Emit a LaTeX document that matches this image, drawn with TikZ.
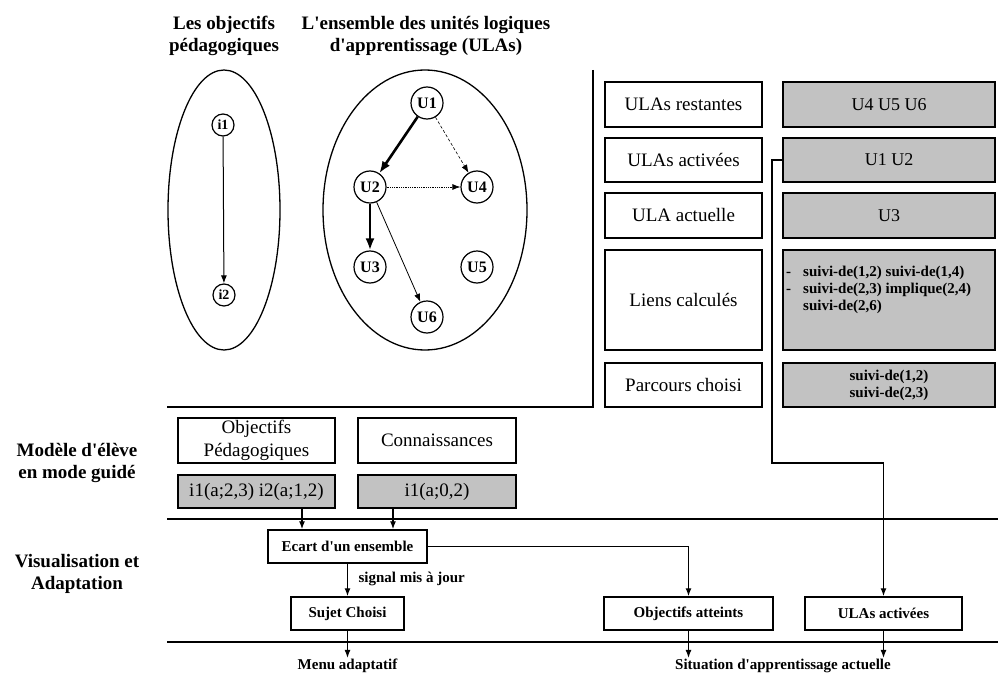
\documentclass[tikz,border=0pt]{standalone}
\usepackage{fontspec}
\setmainfont{Liberation Serif}[Ligatures=TeXOff]
\usetikzlibrary{arrows.meta,calc}
\begin{document}
\begin{tikzpicture}[x=1pt,y=-1pt,
  box/.style={draw, line width=1.5pt, inner sep=0pt, align=center},
  graybox/.style={box, fill=black!24},
  bigreg/.style={font=\fontsize{19}{23}\selectfont},
  midreg/.style={font=\fontsize{18}{21}\selectfont},
  bigbold/.style={font=\fontsize{19}{22}\selectfont\bfseries, align=center},
  smallbold/.style={font=\fontsize{15}{17}\selectfont\bfseries},
  unode/.style={draw, circle, line width=1.2pt, minimum size=32pt, inner sep=0pt, font=\fontsize{16}{16}\selectfont\bfseries},
  inode/.style={draw, circle, line width=1.2pt, minimum size=22pt, inner sep=0pt, font=\fontsize{14}{14}\selectfont\bfseries},
  arr/.style={-{Latex[length=8pt,width=6pt]}},
  thickedge/.style={line width=2.6pt, -{Latex[length=12pt,width=9pt]}},
  thinedge/.style={line width=0.8pt, -{Latex[length=8pt,width=6pt]}},
  sect/.style={line width=1.5pt},
  conn/.style={line width=1.3pt, arr}
]
\useasboundingbox (0,0) rectangle (998,674);

% titles
\node[bigbold] (t1) at (224,36) {Les objectifs\\pédagogiques};
\node[bigbold] (t2) at (426,36) {L'ensemble des unités logiques\\d'apprentissage (ULAs)};

% ellipses
\draw[line width=1.3pt] (224,210) ellipse [x radius=56, y radius=140];
\draw[line width=1.3pt] (425,210) ellipse [x radius=102, y radius=140];

% objective graph
\node[inode] (i1) at (223,125) {i1};
\node[inode] (i2) at (224,295) {i2};
\draw[thinedge, line width=1pt] (i1) -- (i2);

% ULA graph
\node[unode] (u1) at (427,103) {U1};
\node[unode] (u2) at (370,187) {U2};
\node[unode] (u4) at (477,187) {U4};
\node[unode] (u3) at (370,267) {U3};
\node[unode] (u5) at (477,267) {U5};
\node[unode] (u6) at (427,317) {U6};
\draw[thickedge] (u1) -- (u2);
\draw[thinedge, densely dashed, line width=0.6pt] (u1) -- (u4);
\draw[thinedge, densely dotted] (u2) -- (u4);
\draw[thickedge] (u2) -- (u3);
\draw[thinedge] (u2) -- (u6);

% section lines
\coordinate (vt) at (593,70);
\coordinate (l1b) at (593,407);
\coordinate (l1a) at (167,407);
\coordinate (l2a) at (167,519);
\coordinate (l2b) at (998,519);
\coordinate (l3a) at (167,642);
\coordinate (l3b) at (998,642);
\draw[sect] (vt) -- (l1b) -- (l1a);
\draw[sect] (l2a) -- (l2b);
\draw[sect] (l3a) -- (l3b);

% right column
\node[box, bigreg, minimum width=157pt, minimum height=45pt] (restL) at (683.5,104.5) {ULAs restantes};
\node[graybox, midreg, minimum width=212pt, minimum height=45pt] (restR) at (889,104.5) {U4 U5 U6};
\node[box, bigreg, minimum width=157pt, minimum height=44pt] (actL) at (683.5,160) {ULAs activées};
\node[graybox, midreg, minimum width=212pt, minimum height=44pt] (actR) at (889,160) {U1 U2};
\node[box, bigreg, minimum width=157pt, minimum height=45pt] (curL) at (683.5,215.5) {ULA actuelle};
\node[graybox, midreg, minimum width=212pt, minimum height=45pt] (curR) at (889,215.5) {U3};
\node[box, bigreg, minimum width=157pt, minimum height=100pt] (liensL) at (683.5,300) {Liens calculés};
\node[graybox, minimum width=212pt, minimum height=100pt] (liensR) at (889,300) {};
\node[smallbold, align=left, anchor=west, inner sep=0pt] (liensT) at (786,290)
  {-\hspace{12pt}suivi-de(1,2) suivi-de(1,4)\\
   -\hspace{12pt}suivi-de(2,3) implique(2,4)\\
   \phantom{-}\hspace{12pt}suivi-de(2,6)};
\node[box, bigreg, minimum width=157pt, minimum height=44pt] (parcL) at (683.5,385) {Parcours choisi};
\node[graybox, smallbold, minimum width=212pt, minimum height=44pt] (parcR) at (889,385) {suivi-de(1,2)\\suivi-de(2,3)};

% left labels
\node[bigbold] (lab1) at (77,463) {Modèle d'élève\\en mode guidé};
\node[bigbold] (lab2) at (77,574) {Visualisation et\\Adaptation};

% student model
\node[box, bigreg, minimum width=157pt, minimum height=45pt] (objp) at (256.5,440.5) {Objectifs\\Pédagogiques};
\node[box, bigreg, minimum width=158pt, minimum height=45pt] (conk) at (437,440.5) {Connaissances};
\node[graybox, bigreg, minimum width=157pt, minimum height=33pt] (g1) at (256.5,491.5) {i1(a;2,3) i2(a;1,2)};
\node[graybox, bigreg, minimum width=158pt, minimum height=33pt] (g2) at (437,491.5) {i1(a;0,2)};

% visualisation
\node[box, smallbold, minimum width=159pt, minimum height=33pt] (ecart) at (347.5,546.5) {Ecart d'un ensemble};
\node[box, smallbold, minimum width=113pt, minimum height=33pt] (sujet) at (347.5,613.5) {Sujet Choisi};
\node[box, smallbold, minimum width=169pt, minimum height=33pt] (oa) at (688.5,613.5) {Objectifs atteints};
\node[box, smallbold, minimum width=157pt, minimum height=33pt] (bact) at (883.5,613.5) {ULAs activées};

\node[smallbold, anchor=west] (sig) at (355,579) {signal mis à jour};
\node[smallbold, inner sep=1pt] (menu) at (347.5,666) {Menu adaptatif};
\node[smallbold, inner sep=1pt] (sit) at (783,666) {Situation d'apprentissage actuelle};

% connectors
\coordinate (a1) at (302,0);
\coordinate (a2) at (393,0);
\draw[conn] (g1.south -| a1) -- (ecart.north -| a1);
\draw[conn] (g2.south -| a2) -- (ecart.north -| a2);
\draw[conn] (ecart.south) -- (sujet.north);
\draw[conn] (ecart.east) -| (oa.north);
\coordinate (k1) at (772,463);
\draw[conn] (actR.west) -| (k1) -| (bact.north);
\draw[conn] (sujet.south) -- (sujet.south |- menu.north);
\draw[conn] (oa.south) -- (oa.south |- sit.north);
\draw[conn] (bact.south) -- (bact.south |- sit.north);
\end{tikzpicture}
\end{document}
